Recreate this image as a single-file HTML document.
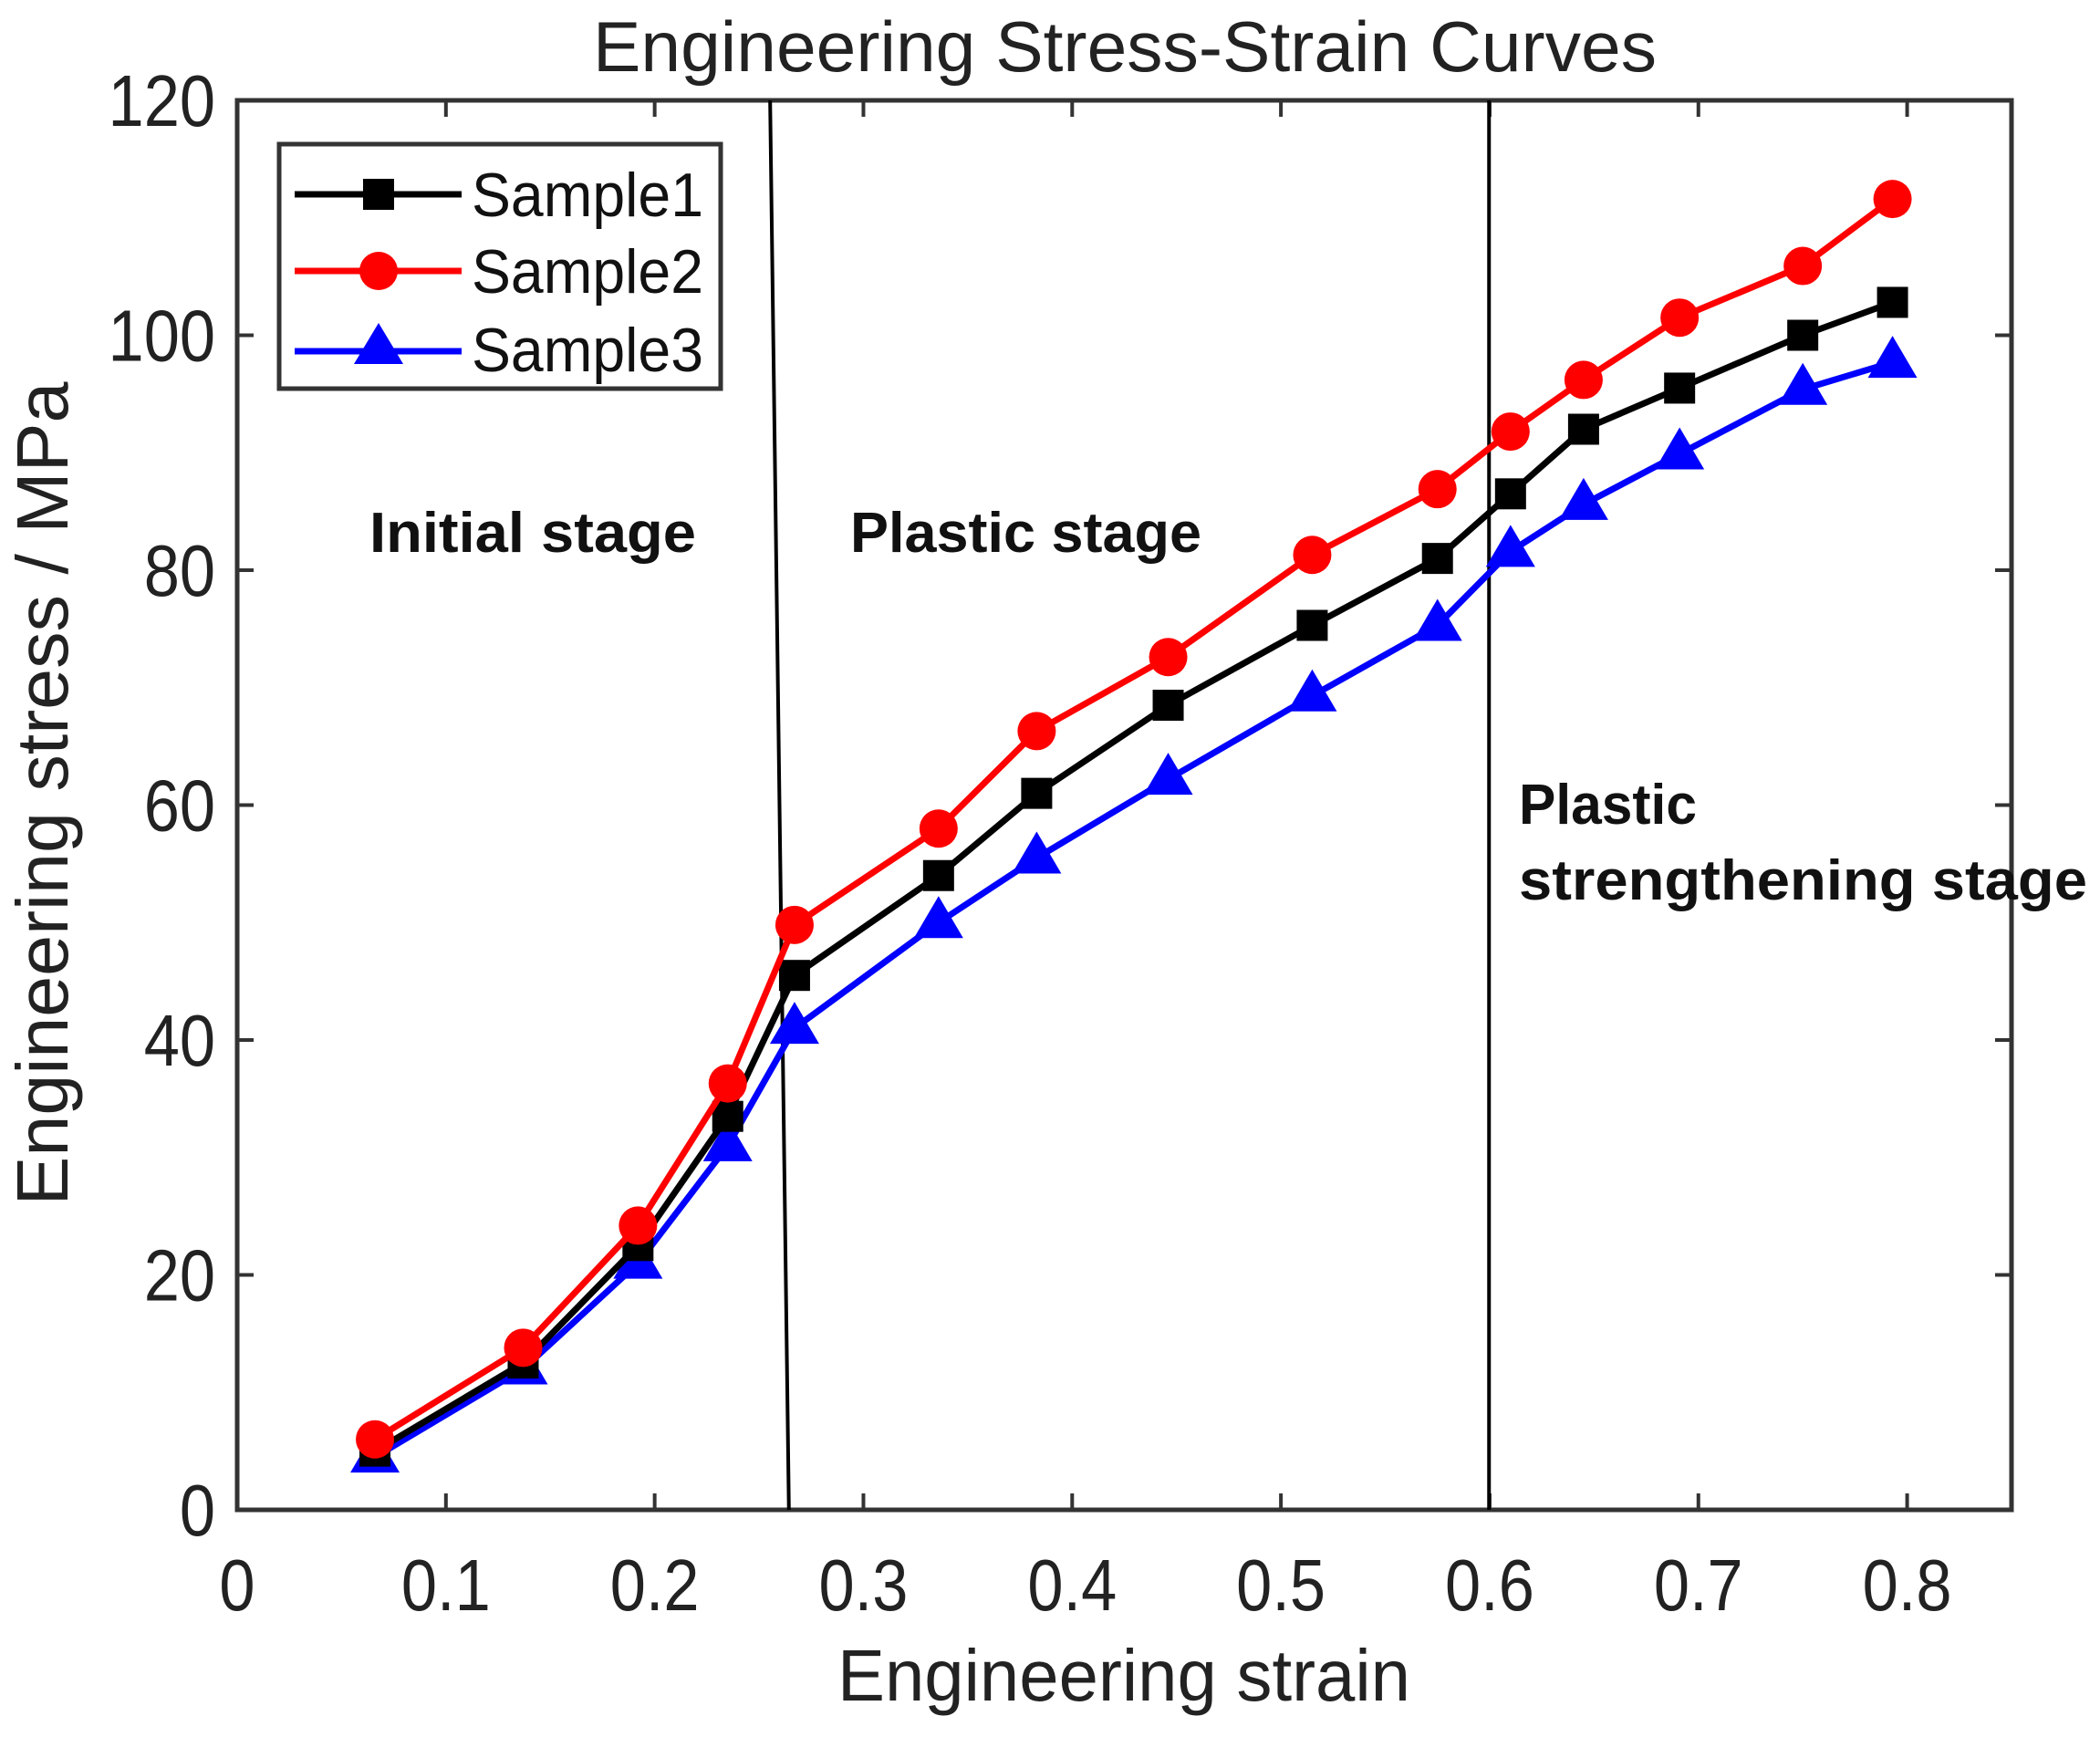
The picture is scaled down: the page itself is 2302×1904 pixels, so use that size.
<!DOCTYPE html>
<html><head><meta charset="utf-8"><style>
html,body{margin:0;padding:0;background:#fff;}
svg{display:block;font-family:"Liberation Sans",sans-serif;}
</style></head><body>
<svg id="chart" width="2302" height="1904" viewBox="0 0 2302 1904" xmlns="http://www.w3.org/2000/svg">
<rect width="2302" height="1904" fill="#fff"/>
<text x="1233" y="78" font-size="78" text-anchor="middle" textLength="1166" lengthAdjust="spacingAndGlyphs" fill="#222">Engineering Stress-Strain Curves</text>
<g id="grid"></g>
<g id="series"></g>
<text x="1232" y="1864" font-size="80" text-anchor="middle" textLength="628" lengthAdjust="spacingAndGlyphs" fill="#222">Engineering strain</text>
<text transform="translate(74,870) rotate(-90)" font-size="80" text-anchor="middle" textLength="903" lengthAdjust="spacingAndGlyphs" fill="#222">Engineering stress / MPa</text>
<text x="405" y="605" font-size="62" font-weight="bold" textLength="358" lengthAdjust="spacingAndGlyphs" fill="#111">Initial stage</text>
<text x="932" y="605" font-size="62" font-weight="bold" textLength="385" lengthAdjust="spacingAndGlyphs" fill="#111">Plastic stage</text>
<text x="1665" y="903" font-size="62" font-weight="bold" textLength="195" lengthAdjust="spacingAndGlyphs" fill="#111">Plastic</text>
<text x="1665" y="986" font-size="62" font-weight="bold" textLength="623" lengthAdjust="spacingAndGlyphs" fill="#111">strengthening stage</text>
<g>
<rect x="306" y="158" width="484" height="268" fill="#fff" stroke="#333" stroke-width="5"/>
<line x1="323" y1="213" x2="506" y2="213" stroke="#000" stroke-width="7"/>
<rect x="398" y="196" width="34" height="34" fill="#000"/>
<text x="517" y="237" font-size="68" textLength="254" lengthAdjust="spacingAndGlyphs" fill="#111">Sample1</text>
<line x1="323" y1="297" x2="506" y2="297" stroke="#f00" stroke-width="7"/>
<circle cx="415" cy="297" r="21" fill="#f00"/>
<text x="517" y="321" font-size="68" textLength="254" lengthAdjust="spacingAndGlyphs" fill="#111">Sample2</text>
<line x1="323" y1="385" x2="506" y2="385" stroke="#00f" stroke-width="7"/>
<polygon points="415,354 442,399 388,399" fill="#00f"/>
<text x="517" y="407" font-size="68" textLength="254" lengthAdjust="spacingAndGlyphs" fill="#111">Sample3</text>
</g>
</svg>
<script>
const strain = [0.066,0.137,0.192,0.235,0.267,0.336,0.383,0.446,0.515,0.575,0.610,0.645,0.691,0.750,0.793];
const sample1 = [5,12.5,22.5,33.5,45.5,54,61,68.5,75.3,81,86.5,92,95.5,100,102.8];
const sample2 = [6,13.8,24.2,36.3,49.8,58,66.3,72.6,81.3,86.9,91.8,96.2,101.5,105.9,111.6];
const sample3 = [4.5,12,21,31,41,50,55.5,62.2,69.3,75.3,81.6,85.6,89.9,95.4,97.7];
const xTicks = [0,0.1,0.2,0.3,0.4,0.5,0.6,0.7,0.8];
const yTicks = [0,20,40,60,80,100,120];
const dividerTop = [0.2553,0.5997];
const dividerBottom = [0.2643,0.5997];

const L=260,R=2205,T=110,B=1655,XMAX=0.85,YMAX=120;
const X=v=>L+(v/XMAX)*(R-L);
const Y=v=>B-(v/YMAX)*(B-T);
const NS='http://www.w3.org/2000/svg';
const grid=document.getElementById('grid');
const ser=document.getElementById('series');
function mk(tag,attrs,parent){const e=document.createElementNS(NS,tag);for(const k in attrs)e.setAttribute(k,attrs[k]);parent.appendChild(e);return e;}

xTicks.forEach(t=>{
  const tk=mk('line',{x1:X(t),x2:X(t),y1:B,y2:B-18,stroke:'#333','stroke-width':4},grid);
  
  
  const tk2=mk('line',{x1:X(t),x2:X(t),y1:T,y2:T+18,stroke:'#333','stroke-width':4},grid);
  
  
  const lb=mk('text',{transform:`translate(${X(t)},1765) scale(0.88,1)`,'font-size':80,'text-anchor':'middle',fill:'#222'},grid);
  lb.textContent=String(t);
  
  
});
yTicks.forEach(t=>{
  const tk=mk('line',{x1:L,x2:L+18,y1:Y(t),y2:Y(t),stroke:'#333','stroke-width':4},grid);
  
  
  const tk2=mk('line',{x1:R,x2:R-18,y1:Y(t),y2:Y(t),stroke:'#333','stroke-width':4},grid);
  
  
  const lb=mk('text',{transform:`translate(236,${Y(t)+28}) scale(0.88,1)`,'font-size':80,'text-anchor':'end',fill:'#222'},grid);
  lb.textContent=String(t);
  
  
});
const frame=mk('rect',{x:L,y:T,width:R-L,height:B-T,fill:'none',stroke:'#333','stroke-width':5},grid);



dividerTop.forEach((v,i)=>{
  const d=mk('line',{x1:X(v),y1:T,x2:X(dividerBottom[i]),y2:B,stroke:'#000','stroke-width':4},ser);
  
  
});

function drawSeries(vals,color,marker,name){
  const pts=strain.map((s,i)=>X(s)+','+Y(vals[i])).join(' ');
  const pl=mk('polyline',{points:pts,fill:'none',stroke:color,'stroke-width':7,'stroke-linejoin':'round'},ser);
  
  
  strain.forEach((s,i)=>{
    const cx=X(s),cy=Y(vals[i]);let m;
    if(marker==='sq') m=mk('rect',{x:cx-17,y:cy-17,width:34,height:34,fill:color},ser);
    else if(marker==='ci') m=mk('circle',{cx:cx,cy:cy,r:21,fill:color},ser);
    else m=mk('polygon',{points:`${cx},${cy-29} ${cx+27},${cy+17} ${cx-27},${cy+17}`,fill:color},ser);
    
    
  });
}
drawSeries(sample3,'#0000ff','tr','sample3');
drawSeries(sample1,'#000000','sq','sample1');
drawSeries(sample2,'#ff0000','ci','sample2');
</script>
</body></html>
